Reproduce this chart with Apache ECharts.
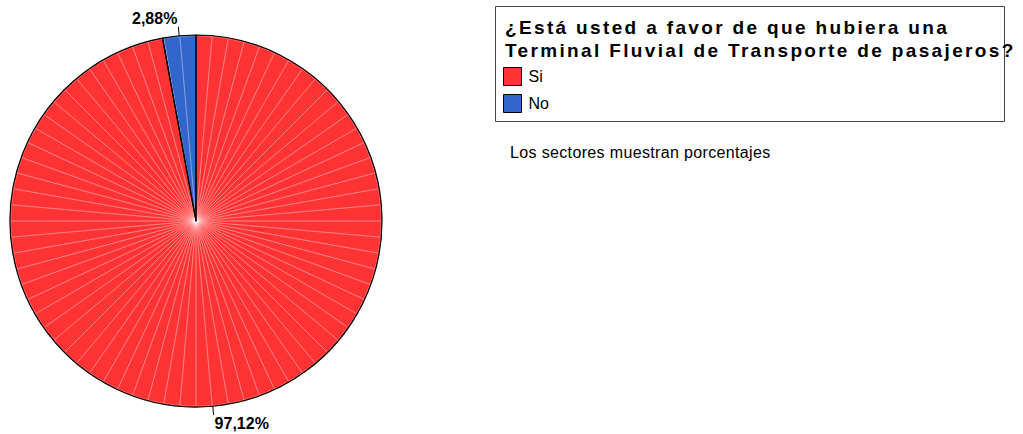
<!DOCTYPE html>
<html>
<head>
<meta charset="utf-8">
<script src="https://cdn.jsdelivr.net/npm/echarts@6/dist/echarts.min.js"></script>
<style>
  html, body { margin: 0; padding: 0; background: #fff; }
  #chart { width: 1023px; height: 434px; }
</style>
</head>
<body>
<div id="chart"></div>
<script>
// Survey answers and their share of respondents (%)
const categories = ['Si', 'No'];
const shares = [97.12, 2.88];
const sliceColors = ['#FF3333', '#3366CC'];

const titleLines = [
  '¿Está usted a favor de que hubiera una',
  'Terminal Fluvial de Transporte de pasajeros?'
];
const noteText = 'Los sectores muestran porcentajes';

// number of faint shading rays laid over the pie
const rayCount = 72;

const FONT = 'Arial, "Liberation Sans", Helvetica, sans-serif';
const CENTER = [196, 221];
const RADIUS = 186;

const pieData = categories.map((name, i) => ({
  name: name,
  value: shares[i],
  itemStyle: { color: sliceColors[i] }
}));

const fmt = v => v.toFixed(2).replace('.', ',') + '%';

const chart = echarts.init(document.getElementById('chart'), null, { renderer: 'svg' });

chart.setOption({
  animation: false,
  backgroundColor: '#fff',
  legend: {
    data: categories,
    orient: 'vertical',
    left: 503,
    top: 67,
    icon: 'rect',
    itemWidth: 18,
    itemHeight: 18,
    itemGap: 8,
    selectedMode: false,
    padding: 0,
    itemStyle: { borderColor: '#000', borderWidth: 1 },
    textStyle: { fontSize: 16, color: '#000', fontFamily: FONT, padding: [0, 0, 0, 2] }
  },
  graphic: [
    {
      type: 'rect',
      left: 493, top: 4,
      shape: { width: 509, height: 115 },
      style: { fill: 'none', stroke: '#444', lineWidth: 1 },
      silent: true
    },
    {
      type: 'text', x: 505, y: 27,
      style: { text: titleLines[0], fill: '#000', font: 'bold 19px ' + FONT, verticalAlign: 'middle' },
      silent: true
    },
    {
      type: 'text', x: 505, y: 50.5,
      style: { text: titleLines[1], fill: '#000', font: 'bold 19px ' + FONT, verticalAlign: 'middle' },
      silent: true
    },
    {
      type: 'text', x: 510, y: 152,
      style: { text: noteText, fill: '#000', font: '16px ' + FONT, verticalAlign: 'middle' },
      silent: true
    }
  ],
  series: [
    {
      // filled slices with their percentage labels
      type: 'pie',
      center: CENTER,
      radius: RADIUS,
      startAngle: 90,
      clockwise: true,
      z: 1,
      data: pieData,
      itemStyle: { borderWidth: 0 },
      emphasis: { disabled: true },
      label: {
        show: true,
        position: 'outside',
        formatter: p => fmt(p.value),
        fontSize: 16,
        fontWeight: 'bold',
        fontFamily: FONT,
        color: '#000',
        distanceToLabelLine: 1
      },
      labelLine: {
        show: true,
        length: 9,
        length2: 0,
        lineStyle: { color: '#000', width: 1 }
      },
      labelLayout: function (p) {
        const endY = p.labelLinePoints ? p.labelLinePoints[2][1] : p.labelRect.y;
        return {
          verticalAlign: endY < CENTER[1] ? 'bottom' : 'top',
          labelLinePoints: p.labelLinePoints
        };
      }
    },
    {
      // faint radial shading rays
      type: 'pie',
      center: CENTER,
      radius: RADIUS - 1,
      startAngle: 90,
      z: 2,
      silent: true,
      label: { show: false },
      labelLine: { show: false },
      emphasis: { disabled: true },
      itemStyle: { color: 'rgba(0,0,0,0)', borderColor: 'rgba(255,255,255,0.28)', borderWidth: 0.8 },
      data: Array.from({ length: rayCount }, () => 1)
    },
    {
      // black slice outlines
      type: 'pie',
      center: CENTER,
      radius: RADIUS,
      startAngle: 90,
      clockwise: true,
      z: 3,
      silent: true,
      label: { show: false },
      labelLine: { show: false },
      emphasis: { disabled: true },
      itemStyle: { color: 'rgba(0,0,0,0)', borderColor: '#000', borderWidth: 1.2 },
      data: categories.map((name, i) => ({ name: name, value: shares[i] }))
    }
  ]
});

// SPSS-style spaced lettering for the legend heading
function spaceOut() {
  document.querySelectorAll('#chart text').forEach(t => {
    const s = t.textContent;
    if (titleLines.includes(s)) t.setAttribute('letter-spacing', '2.35');
    else if (s === noteText) t.setAttribute('letter-spacing', '0.35');
  });
}
chart.on('finished', spaceOut);
setTimeout(spaceOut, 50);
</script>
</body>
</html>
